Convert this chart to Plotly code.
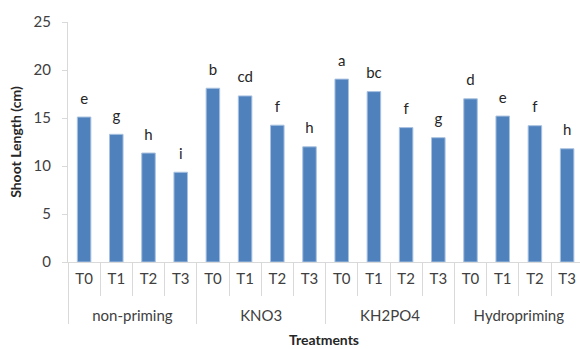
import plotly.graph_objects as go

groups = ["non-priming", "KNO3", "KH2PO4", "Hydropriming"]
levels = ["T0", "T1", "T2", "T3"]
shoot_length = [
    [15.1, 13.3, 11.35, 9.35],   # non-priming
    [18.1, 17.3, 14.25, 12.0],   # KNO3
    [19.05, 17.75, 14.0, 12.95], # KH2PO4
    [17.0, 15.2, 14.2, 11.8],    # Hydropriming
]
letters = [
    ["e", "g", "h", "i"],
    ["b", "cd", "f", "h"],
    ["a", "bc", "f", "g"],
    ["d", "e", "f", "h"],
]

x_outer, x_inner, y_vals, txt = [], [], [], []
for g, vals, lets in zip(groups, shoot_length, letters):
    for lv, v, t in zip(levels, vals, lets):
        x_outer.append("<br>" + g)   # leading break pushes group label to second row spacing
        x_inner.append(lv)
        y_vals.append(v)
        txt.append(t)

FONT = "Lato"

fig = go.Figure()
fig.add_trace(go.Bar(
    x=[x_outer, x_inner], y=y_vals,
    width=0.42,
    marker=dict(color="#4F81BD", line=dict(color="#A9C2E0", width=1)),
    hoverinfo="skip",
))
fig.add_trace(go.Scatter(
    x=[x_outer, x_inner], y=y_vals, text=txt,
    mode="markers+text", textposition="top center",
    marker=dict(size=14, color="rgba(0,0,0,0)"),
    textfont=dict(family=FONT, size=15, color="#262626"),
    cliponaxis=False, hoverinfo="skip",
))

fig.update_layout(
    width=580, height=349,
    margin=dict(l=68, r=0, t=22, b=87, autoexpand=False),
    paper_bgcolor="white", plot_bgcolor="white",
    showlegend=False,
    font=dict(family=FONT, color="#404040"),
)
fig.update_xaxes(
    type="multicategory",
    range=[-0.5, 15.4],
    automargin=False,
    showline=True, linecolor="#D9D9D9", linewidth=1,
    ticks="outside", ticklen=33, tickcolor="#D9D9D9", tickson="boundaries",
    ticklabelstandoff=3,
    showdividers=True, dividercolor="#D9D9D9", dividerwidth=1,
    tickfont=dict(family=FONT, size=15, color="#404040"),
    showgrid=False,
    title=dict(text="<b>Treatments</b>", font=dict(family=FONT, size=14, color="#262626"), standoff=12),
)
fig.update_yaxes(
    range=[0, 25], dtick=5,
    automargin=False,
    showline=True, linecolor="#D9D9D9", linewidth=1,
    ticks="outside", ticklen=5, tickcolor="#D9D9D9",
    ticklabelstandoff=8,
    showgrid=False, zeroline=False,
    tickfont=dict(family=FONT, size=15, color="#404040"),
    title=dict(text="<b>Shoot Length (cm)</b>", font=dict(family=FONT, size=14, color="#262626"), standoff=8),
)

fig.write_html("out.html", config={"displayModeBar": False},
               post_script="document.body.style.margin='0';")
